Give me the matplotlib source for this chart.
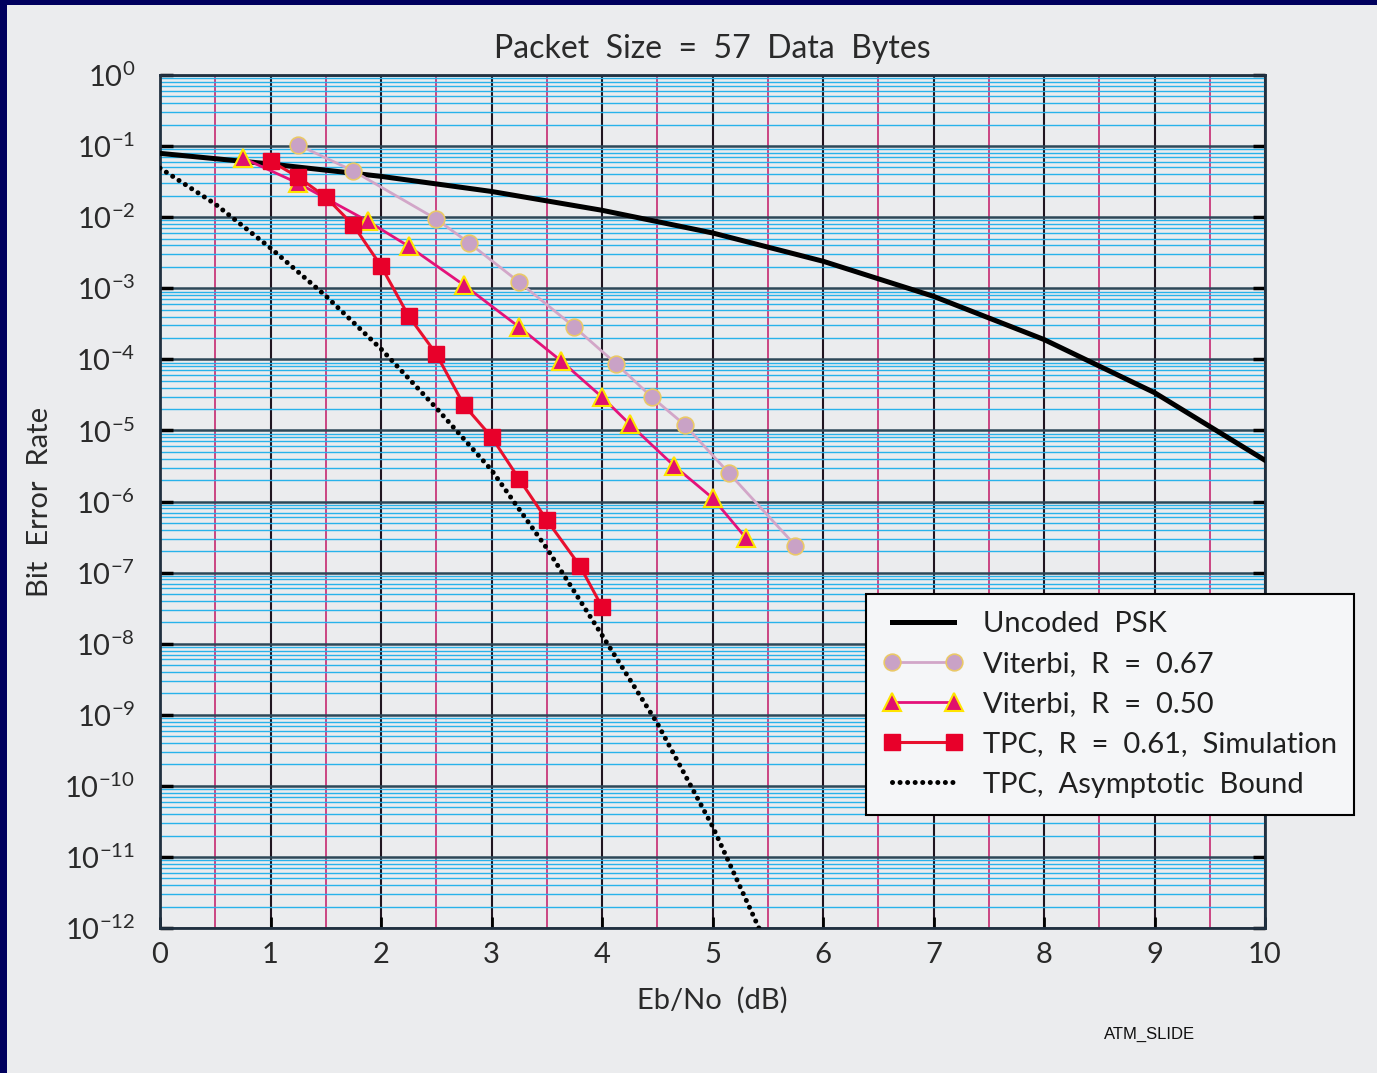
import numpy as np
import matplotlib
matplotlib.use("Agg")
import matplotlib.pyplot as plt
from matplotlib.ticker import LogLocator, LogFormatterMathtext, NullFormatter, MultipleLocator
from matplotlib.patches import Rectangle

# データ
psk_x = [0, 1, 2, 3, 4, 5, 6, 7, 8, 9, 10]
psk_ber = [0.079, 0.056, 0.0375, 0.023, 0.0125, 0.006, 0.0024, 0.00077, 0.00019, 3.4e-5, 3.8e-6]

vit67_x = [1.25, 1.75, 2.5, 2.8, 3.25, 3.75, 4.13, 4.45, 4.75, 5.15, 5.75]
vit67_ber = [0.104, 0.0446, 0.0094, 0.0043, 0.00122, 2.85e-4, 8.6e-5, 2.95e-5, 1.19e-5, 2.5e-6, 2.4e-7]

vit50_x = [0.75, 1.25, 1.88, 2.25, 2.75, 3.25, 3.63, 4.0, 4.25, 4.65, 5.0, 5.3]
vit50_ber = [0.068, 0.030, 0.0088, 0.0039, 0.00111, 2.85e-4, 9.5e-5, 2.95e-5, 1.23e-5, 3.2e-6, 1.12e-6, 3.1e-7]

tpc_x = [1.0, 1.25, 1.5, 1.75, 2.0, 2.25, 2.5, 2.75, 3.0, 3.25, 3.5, 3.8, 4.0]
tpc_ber = [0.0617, 0.0367, 0.0192, 0.0077, 0.00206, 4.07e-4, 1.19e-4, 2.28e-5, 8.1e-6, 2.07e-6, 5.5e-7, 1.24e-7, 3.3e-8]

bound_x = [0, 0.5, 1, 1.5, 2, 2.5, 3, 3.5, 4, 4.5, 5, 5.42]
bound_ber = [0.049, 0.0153, 3.68e-3, 7.8e-4, 1.4e-4, 2.07e-5, 2.77e-6, 2.2e-7, 1.32e-8, 7.6e-10, 2.7e-11, 1e-12]

labels = ["Uncoded  PSK", "Viterbi,  R  =  0.67", "Viterbi,  R  =  0.50",
          "TPC,  R  =  0.61,  Simulation", "TPC,  Asymptotic  Bound"]

bg = "#EBECEE"
txt = "#2A2A2A"
plt.rcParams['font.family'] = ['Lato', 'DejaVu Sans']

fig = plt.figure(figsize=(13.77, 10.73), dpi=100, facecolor=bg)
ax = fig.add_axes([160 / 1377, 1 - 928 / 1073, 1105 / 1377, 853 / 1073])
ax.set_facecolor(bg)

ax.set_yscale('log')
ax.set_xlim(0, 10)
ax.set_ylim(1e-12, 1)

ax.xaxis.set_major_locator(MultipleLocator(1))
ax.xaxis.set_minor_locator(MultipleLocator(0.5))
ax.yaxis.set_major_locator(LogLocator(base=10, numticks=30))
ax.yaxis.set_minor_locator(LogLocator(base=10, subs=np.arange(2, 10), numticks=30))
ax.yaxis.set_major_formatter(LogFormatterMathtext())
ax.yaxis.set_minor_formatter(NullFormatter())

# グリッド
ax.grid(which='minor', axis='y', color='#28B2EA', linewidth=1.0, zorder=0)
ax.grid(which='major', axis='y', color='#2D4858', linewidth=1.8, zorder=0)
ax.grid(which='minor', axis='x', color='#C8387A', linewidth=1.3, zorder=0)
ax.grid(which='major', axis='x', color='#201520', linewidth=1.5, zorder=0)
ax.set_axisbelow(True)

ax.tick_params(axis='both', which='minor', length=0)
ax.tick_params(axis='y', which='major', direction='in', length=9, width=2.5, color='black',
               left=True, right=True, labelsize=21, pad=18, labelcolor=txt)
ax.tick_params(axis='x', which='major', direction='in', length=8, width=2, color='black',
               labelsize=21, pad=10, labelcolor=txt)
for s in ax.spines.values():
    s.set_color('#203040')
    s.set_linewidth(2)

# 曲線
ax.plot(psk_x, psk_ber, color='black', linewidth=3.6, zorder=3, label=labels[0])
ax.plot(vit67_x, vit67_ber, color='#D2A6C8', linewidth=2.0, marker='o', markersize=12,
        markerfacecolor='#C9A2C6', markeredgecolor='#EAC868', markeredgewidth=1.2,
        zorder=4, label=labels[1])
ax.plot(vit50_x, vit50_ber, color='#E4127A', linewidth=2.0, marker='^', markersize=12.5,
        markerfacecolor='#E0106E', markeredgecolor='#FFE400', markeredgewidth=1.5,
        zorder=5, label=labels[2])
ax.plot(tpc_x, tpc_ber, color='#E8102E', linewidth=2.2, marker='s', markersize=11,
        markerfacecolor='#E8002A', markeredgecolor='#E8002A', zorder=6, label=labels[3])
ax.plot(bound_x, bound_ber, color='black', linewidth=3.6, linestyle=(0, (0.01, 1.5)),
        dash_capstyle='round', zorder=3.5, label=labels[4])

ax.set_title("Packet  Size  =  57  Data  Bytes", fontsize=23, color=txt, pad=12)
ax.set_xlabel("Eb/No  (dB)", fontsize=21, color=txt, labelpad=14)
ax.set_ylabel("Bit  Error  Rate", fontsize=21, color=txt, labelpad=8)

leg = ax.legend(loc='upper left', bbox_to_anchor=(866 / 1377, 1 - 594 / 1073),
                bbox_transform=fig.transFigure, borderaxespad=0, fontsize=21,
                frameon=True, fancybox=False, framealpha=1, facecolor='#F5F6F8',
                edgecolor='black', handlelength=2.7, handletextpad=0.7,
                labelspacing=0.48, borderpad=0.6, numpoints=2)
leg.get_frame().set_linewidth(1.5)
leg.set_zorder(10)
for t in leg.get_texts():
    t.set_color('#202020')

fig.text(1150 / 1377, 1 - 1034 / 1073, "ATM_SLIDE", fontsize=12, family='Liberation Sans',
         ha='center', va='center', color='#101010')

# 枠
fig.patches.append(Rectangle((0, 0), 7 / 1377, 1, transform=fig.transFigure,
                             facecolor='#00005E', edgecolor='none', zorder=20))
fig.patches.append(Rectangle((0, 1 - 5 / 1073), 1, 5 / 1073, transform=fig.transFigure,
                             facecolor='#00005E', edgecolor='none', zorder=20))

fig.savefig("out.png", dpi=100, facecolor=bg)
